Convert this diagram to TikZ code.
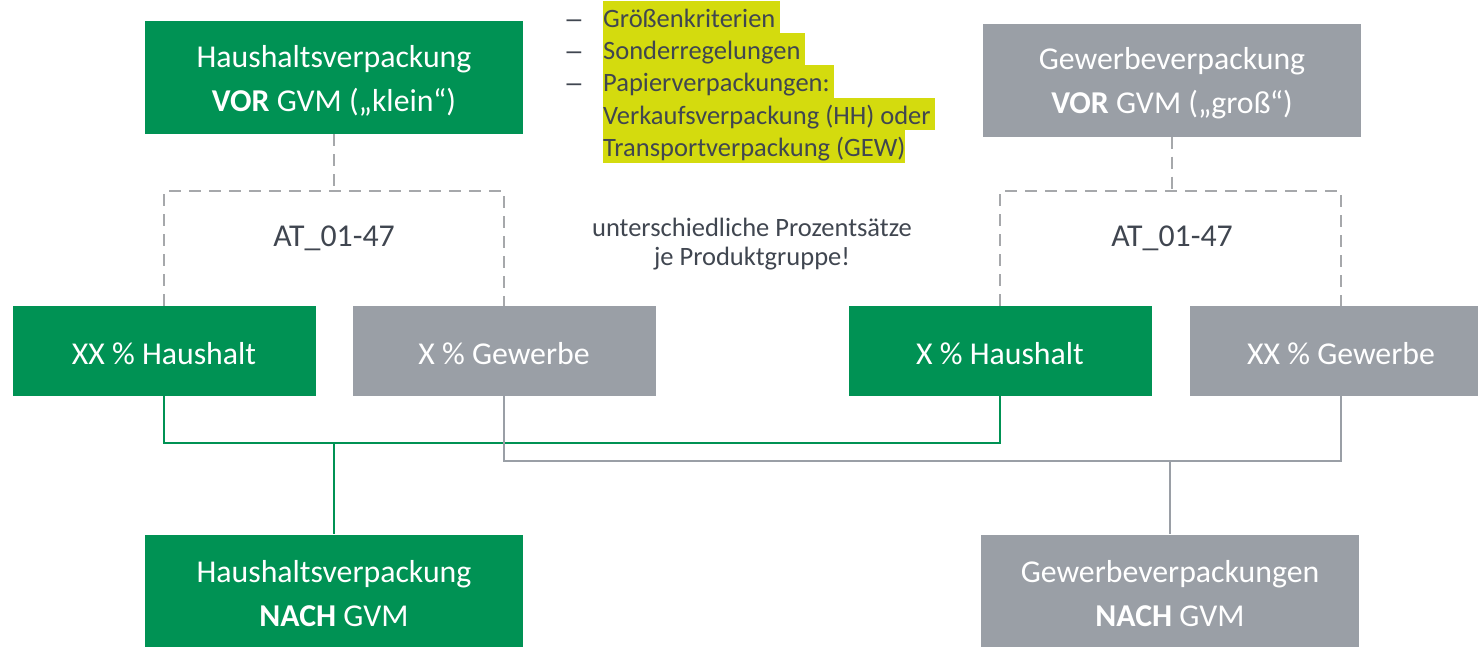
\documentclass[tikz,border=0pt]{standalone}
\usepackage{fontspec}
\setmainfont{Carlito}
\newfontfamily\dashfont{Liberation Sans}
\definecolor{grn}{RGB}{0,146,84}
\definecolor{gry}{RGB}{154,159,166}
\definecolor{txt}{RGB}{64,70,80}
\definecolor{hl}{RGB}{212,219,14}
\definecolor{dsh}{RGB}{166,168,171}
\begin{document}
\begin{tikzpicture}[x=1pt,y=-1pt,
  btext/.style={inner sep=0pt, align=center, text=white, yshift=-3pt, font=\fontsize{31.8}{44}\selectfont},
  big/.style={inner sep=0pt, minimum width=378pt, minimum height=113pt},
  mid/.style={inner sep=0pt, minimum width=303pt, minimum height=90pt},
  dline/.style={draw=dsh, line width=2pt, dash pattern=on 12pt off 8pt},
  gline/.style={draw=grn, line width=2pt},
  yline/.style={draw=gry, line width=2pt},
  lbl/.style={text=txt, inner sep=0pt, font=\fontsize{31.8}{38}\selectfont},
  note/.style={text=txt, inner sep=0pt, align=center, font=\fontsize{26.5}{29}\selectfont},
  hline/.style={fill=hl, text=txt, inner xsep=0pt, inner ysep=0pt, text height=26.5pt, text depth=5.9pt, anchor=base west, font=\fontsize{26.5}{32}\selectfont},
  bul/.style={text=txt, inner sep=0pt, anchor=base, font=\dashfont\fontsize{26.5}{32}\selectfont}
]
\useasboundingbox (0,0) rectangle (1478,646);

% top boxes
\node[big, fill=grn, label={[btext]center:{Haushaltsverpackung\\\textbf{VOR} GVM („klein“)}}] (tl) at (334,77.5) {};
\node[big, fill=gry, label={[btext]center:{Gewerbeverpackung\\\textbf{VOR} GVM („groß“)}}] (tr) at (1172,80) {};

% middle boxes
\node[mid, fill=grn, label={[btext]center:{XX \% Haushalt}}] (xxh) at (164,351) {};
\node[mid, fill=gry, label={[btext]center:{X \% Gewerbe}}] (xg) at (504,351) {};
\node[mid, fill=grn, label={[btext]center:{X \% Haushalt}}] (xh) at (1000,351) {};
\node[mid, fill=gry, label={[btext]center:{XX \% Gewerbe}}] (xxg) at (1341,351) {};

% bottom boxes
\node[big, fill=grn, label={[btext]center:{Haushaltsverpackung\\\textbf{NACH} GVM}}] (hvn) at (334,591) {};
\node[big, fill=gry, label={[btext]center:{Gewerbeverpackungen\\\textbf{NACH} GVM}}] (gvn) at (1170,591) {};

% labels
\node[lbl, anchor=base] (atl) at (334,246) {AT\_01-47};
\node[lbl, anchor=base] (atr) at (1172,246) {AT\_01-47};
\node[note, anchor=base] (n1) at (752,236) {unterschiedliche Prozentsätze};
\node[note, anchor=base] (n2) at (752,265) {je Produktgruppe!};

% highlighted bullet list
\node[hline] (b1) at (603,27) {Größenkriterien\,};
\node[hline] (b2) at (603,59.4) {Sonderregelungen\,};
\node[hline] (b3) at (603,91.8) {Papierverpackungen:\,};
\node[hline] (b4) at (603,124.2) {Verkaufsverpackung (HH) oder\,};
\node[hline] (b5) at (603,156.6) {Transportverpackung (GEW)};
\node[bul] (d1) at (574,27) {–};
\node[bul] (d2) at (574,59.4) {–};
\node[bul] (d3) at (574,91.8) {–};

% dashed brackets
\coordinate (lj) at (334,191);
\coordinate (rj) at (1172,191);
\draw[dline] (tl.south) -- (lj);
\draw[dline] (xxh.north) |- (lj) -| (xg.north);
\draw[dline] (tr.south) -- (rj);
\draw[dline] (xh.north) |- (rj) -| (xxg.north);

% solid connectors
\coordinate (gj) at (334,443);
\coordinate (yj) at (1170,461);
\draw[gline] (xxh.south) |- (gj) -| (xh.south);
\draw[gline] (gj) -- (hvn.north);
\draw[yline] (xg.south) |- (yj) -| (xxg.south);
\draw[yline] (yj) -- (gvn.north);
\end{tikzpicture}
\end{document}
